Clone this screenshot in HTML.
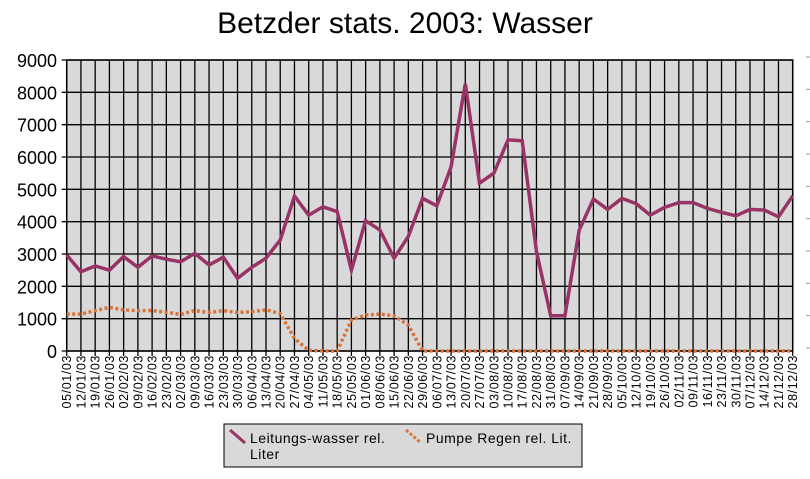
<!DOCTYPE html>
<html><head><meta charset="utf-8"><style>
body{margin:0;background:#fff;width:810px;height:474px;overflow:hidden;font-family:"Liberation Sans",sans-serif}
</style></head><body>
<svg id="chart" width="810" height="474" xmlns="http://www.w3.org/2000/svg" font-family="Liberation Sans, sans-serif">
<text x="405" y="33" text-anchor="middle" font-size="30">Betzder stats. 2003: Wasser</text>
<g id="grid"></g><g id="axes"></g><g id="series"></g>
<g>
<rect x="224" y="424" width="358" height="43" fill="#d9d9d9" stroke="#000" stroke-width="1"/>
<g>
<line x1="230" y1="430" x2="245" y2="443" stroke="#993366" stroke-width="3"/>
<text x="250" y="443" font-size="14" letter-spacing="0.5">Leitungs-wasser rel.</text>
<text x="250" y="459" font-size="14" letter-spacing="0.5">Liter</text></g>
<g>
<line x1="406" y1="430" x2="421" y2="443" stroke="#d8743a" stroke-width="3" stroke-dasharray="3,2"/>
<text x="426" y="443" font-size="14" letter-spacing="0.5">Pumpe Regen rel. Lit.</text></g>
</g>
</svg>
<script>
const categories=["05/01/03","12/01/03","19/01/03","26/01/03","02/02/03","09/02/03","16/02/03","23/02/03","02/03/03","09/03/03","16/03/03","23/03/03","30/03/03","06/04/03","13/04/03","20/04/03","27/04/03","04/05/03","11/05/03","18/05/03","25/05/03","01/06/03","08/06/03","15/06/03","22/06/03","29/06/03","06/07/03","13/07/03","20/07/03","27/07/03","03/08/03","10/08/03","17/08/03","22/08/03","31/08/03","07/09/03","14/09/03","21/09/03","28/09/03","05/10/03","12/10/03","19/10/03","26/10/03","02/11/03","09/11/03","16/11/03","23/11/03","30/11/03","07/12/03","14/12/03","21/12/03","28/12/03"];
const leitungswasser=[2970,2450,2630,2500,2920,2590,2940,2840,2760,3020,2660,2900,2250,2590,2870,3430,4790,4200,4460,4310,2500,4030,3740,2870,3540,4720,4490,5700,8260,5190,5500,6530,6500,3070,1090,1090,3740,4700,4380,4720,4560,4200,4440,4590,4590,4410,4290,4180,4380,4360,4150,4800];
const pumpe=[1140,1140,1250,1350,1270,1250,1250,1200,1130,1250,1190,1250,1190,1220,1270,1160,390,20,0,0,960,1110,1140,1090,800,0,0,0,0,0,0,0,0,0,0,0,0,0,0,0,0,0,0,0,0,0,0,0,0,0,0,0];
const yTicks=[0,1000,2000,3000,4000,5000,6000,7000,8000,9000];
const L=66.7,R=792.7,T=60,B=351,YMAX=9000;
const NS="http://www.w3.org/2000/svg";
function xS(i){return L+(R-L)*i/(categories.length-1);}
function yS(v){return B-(B-T)*v/YMAX;}
function mk(tag,a,p){const e=document.createElementNS(NS,tag);for(const k in a)e.setAttribute(k,a[k]);p.appendChild(e);return e;}
const grid=document.getElementById('grid'),axes=document.getElementById('axes'),ser=document.getElementById('series');
const bg=mk('rect',{x:L,y:T,width:R-L,height:B-T,fill:'#d9d9d9'},grid);


yTicks.forEach(v=>{
 const l=mk('line',{x1:L-5,x2:R,y1:yS(v),y2:yS(v),stroke:'#000','stroke-width':1.3},grid);
 
 
 const t=mk('text',{x:57,y:yS(v)+7,'text-anchor':'end','font-size':18},axes);
 
 
 t.textContent=v;
 const d=mk('line',{x1:806,x2:810,y1:yS(v)-3,y2:yS(v)-3,stroke:'#999','stroke-width':1},axes);
 
 
});
categories.forEach((c,i)=>{
 const l=mk('line',{x1:xS(i),x2:xS(i),y1:T,y2:B+5,stroke:'#000','stroke-width':1.3},grid);
 
 
 const t=mk('text',{x:0,y:0,'text-anchor':'end','font-size':12.5,'letter-spacing':0.6,transform:`translate(${xS(i)+4.5},355) rotate(-90)`},axes);
 
 
 t.textContent=c;
});
const ax=mk('rect',{x:L,y:T,width:R-L,height:B-T,fill:'none',stroke:'#000','stroke-width':1.5},grid);


function pts(arr){return arr.map((v,i)=>xS(i).toFixed(1)+','+yS(v).toFixed(1)).join(' ');}
const p2=mk('polyline',{points:pts(pumpe),fill:'none',stroke:'#d8743a','stroke-width':3.5,'stroke-dasharray':'3,2.5'},ser);


const p1=mk('polyline',{points:pts(leitungswasser),fill:'none',stroke:'#993366','stroke-width':3.5,'stroke-linejoin':'miter'},ser);


</script>
</body></html>
